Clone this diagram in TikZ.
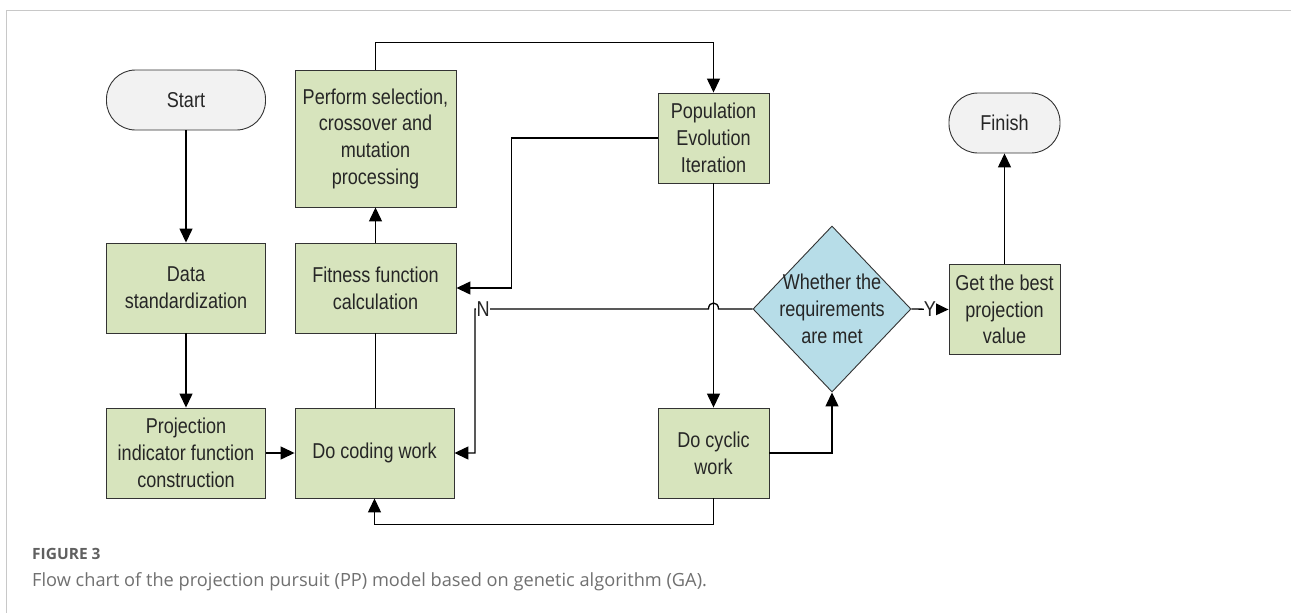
\documentclass[tikz,border=0pt]{standalone}
\usepackage{fontspec}
\setmainfont{Liberation Sans}[FakeStretch=0.84]
\newfontfamily\capfont{Open Sans}
\usetikzlibrary{shapes.geometric,arrows.meta,calc}
\definecolor{boxgreen}{HTML}{D7E4BD}
\definecolor{diablue}{HTML}{B7DDE8}
\definecolor{termgray}{HTML}{F2F2F2}
\definecolor{framegray}{HTML}{C8C8C8}
\definecolor{capgray}{HTML}{707070}
\definecolor{figgray}{HTML}{606060}
\begin{document}
\begin{tikzpicture}[x=1pt,y=-1pt,
  txt/.style={font=\fontsize{21.5}{26.7}\selectfont, text=black!85},
  proc/.style={txt, rectangle, draw=black!80, line width=0.9pt, fill=boxgreen, align=center, inner sep=0pt, minimum height=90pt},
  term/.style={txt, rectangle, rounded corners=29pt, draw=black!80, line width=0.9pt, fill=termgray, align=center, inner sep=0pt, minimum height=60pt},
  dia/.style={diamond, draw=black!80, line width=0.9pt, fill=diablue, inner sep=0pt, minimum width=158pt, minimum height=166pt},
  conn/.style={draw=black, line width=1.3pt},
  arr/.style={conn, -{Triangle[width=13pt,length=14pt]}},
  lbl/.style={txt, fill=white, inner sep=0.3pt}
]
\useasboundingbox (0,0) rectangle (1291,613);
\fill[white] (0,0) rectangle (1291,613);
\draw[framegray, line width=1pt] (1291,10) -- (6,10) -- (6,613);

% nodes
\node[term, minimum width=159pt] (start) at (186,100) {Start};
\node[proc, minimum width=159pt] (data) at (186,288) {Data\\standardization};
\node[proc, minimum width=159pt] (proj) at (186,453) {Projection\\indicator function\\construction};
\node[proc, minimum width=161pt, minimum height=137pt] (perf) at (375.5,138.5) {Perform selection,\\crossover and\\mutation\\processing};
\node[proc, minimum width=161pt] (fit) at (375.5,288) {Fitness function\\calculation};
\node[proc, minimum width=159pt] (code) at (374.5,453) {Do coding work};
\node[proc, minimum width=111pt] (pop) at (713.5,138) {Population\\Evolution\\Iteration};
\node[proc, minimum width=111pt] (cyc) at (713.5,453) {Do cyclic\\work};
\node[dia, label={[txt, align=center]center:{Whether the\\requirements\\are met}}] (dec) at (832,309) {};
\node[proc, minimum width=111pt] (best) at (1004.5,309.5) {Get the best\\projection\\value};
\node[term, minimum width=111pt] (fin) at (1004.5,123) {Finish};

\coordinate (hop) at (pop.south |- dec.west);
\coordinate (ncorner) at (475,309);

% connectors
\draw[arr] (start) -- (data);
\draw[arr] (data) -- (proj);
\draw[arr] (proj) -- (code);
\draw[conn] (fit.south) -- (fit.south |- code.north);
\draw[arr] (fit) -- (perf);
\draw[arr] (perf.north) -- ++(0,-27) -| (pop.north);
\draw[arr] (pop.west) -- ++(-146,0) |- (fit.east);
\draw[arr] (pop) -- (cyc);
\draw[arr] (cyc.east) -| (dec.south);
\draw[arr] (cyc.south) -- ++(0,26) -| (code.south);
\draw[arr] (dec.west) -- ([xshift=5pt]hop) .. controls ([xshift=5pt,yshift=8pt]hop) and ([xshift=-5pt,yshift=8pt]hop) .. ([xshift=-5pt]hop) -- (ncorner) |- (code.east);
\draw[arr] (dec.east) -- (best.west);
\draw[arr] (best) -- (fin);

\node[lbl, anchor=west] (nlab) at ([xshift=1pt]ncorner) {N};
\node[lbl, inner sep=0pt] (ylab) at (930,309) {Y};

% caption
\node[anchor=base west, inner sep=0pt, text=figgray, font=\capfont\bfseries\fontsize{15.5}{17}\selectfont] (fig) at (32,559) {FIGURE 3};
\node[anchor=base west, inner sep=0pt, text=capgray, font=\capfont\fontsize{18.2}{21}\selectfont] (cap) at (32,586) {Flow chart of the projection pursuit (PP) model based on genetic algorithm (GA).};
\end{tikzpicture}
\end{document}
